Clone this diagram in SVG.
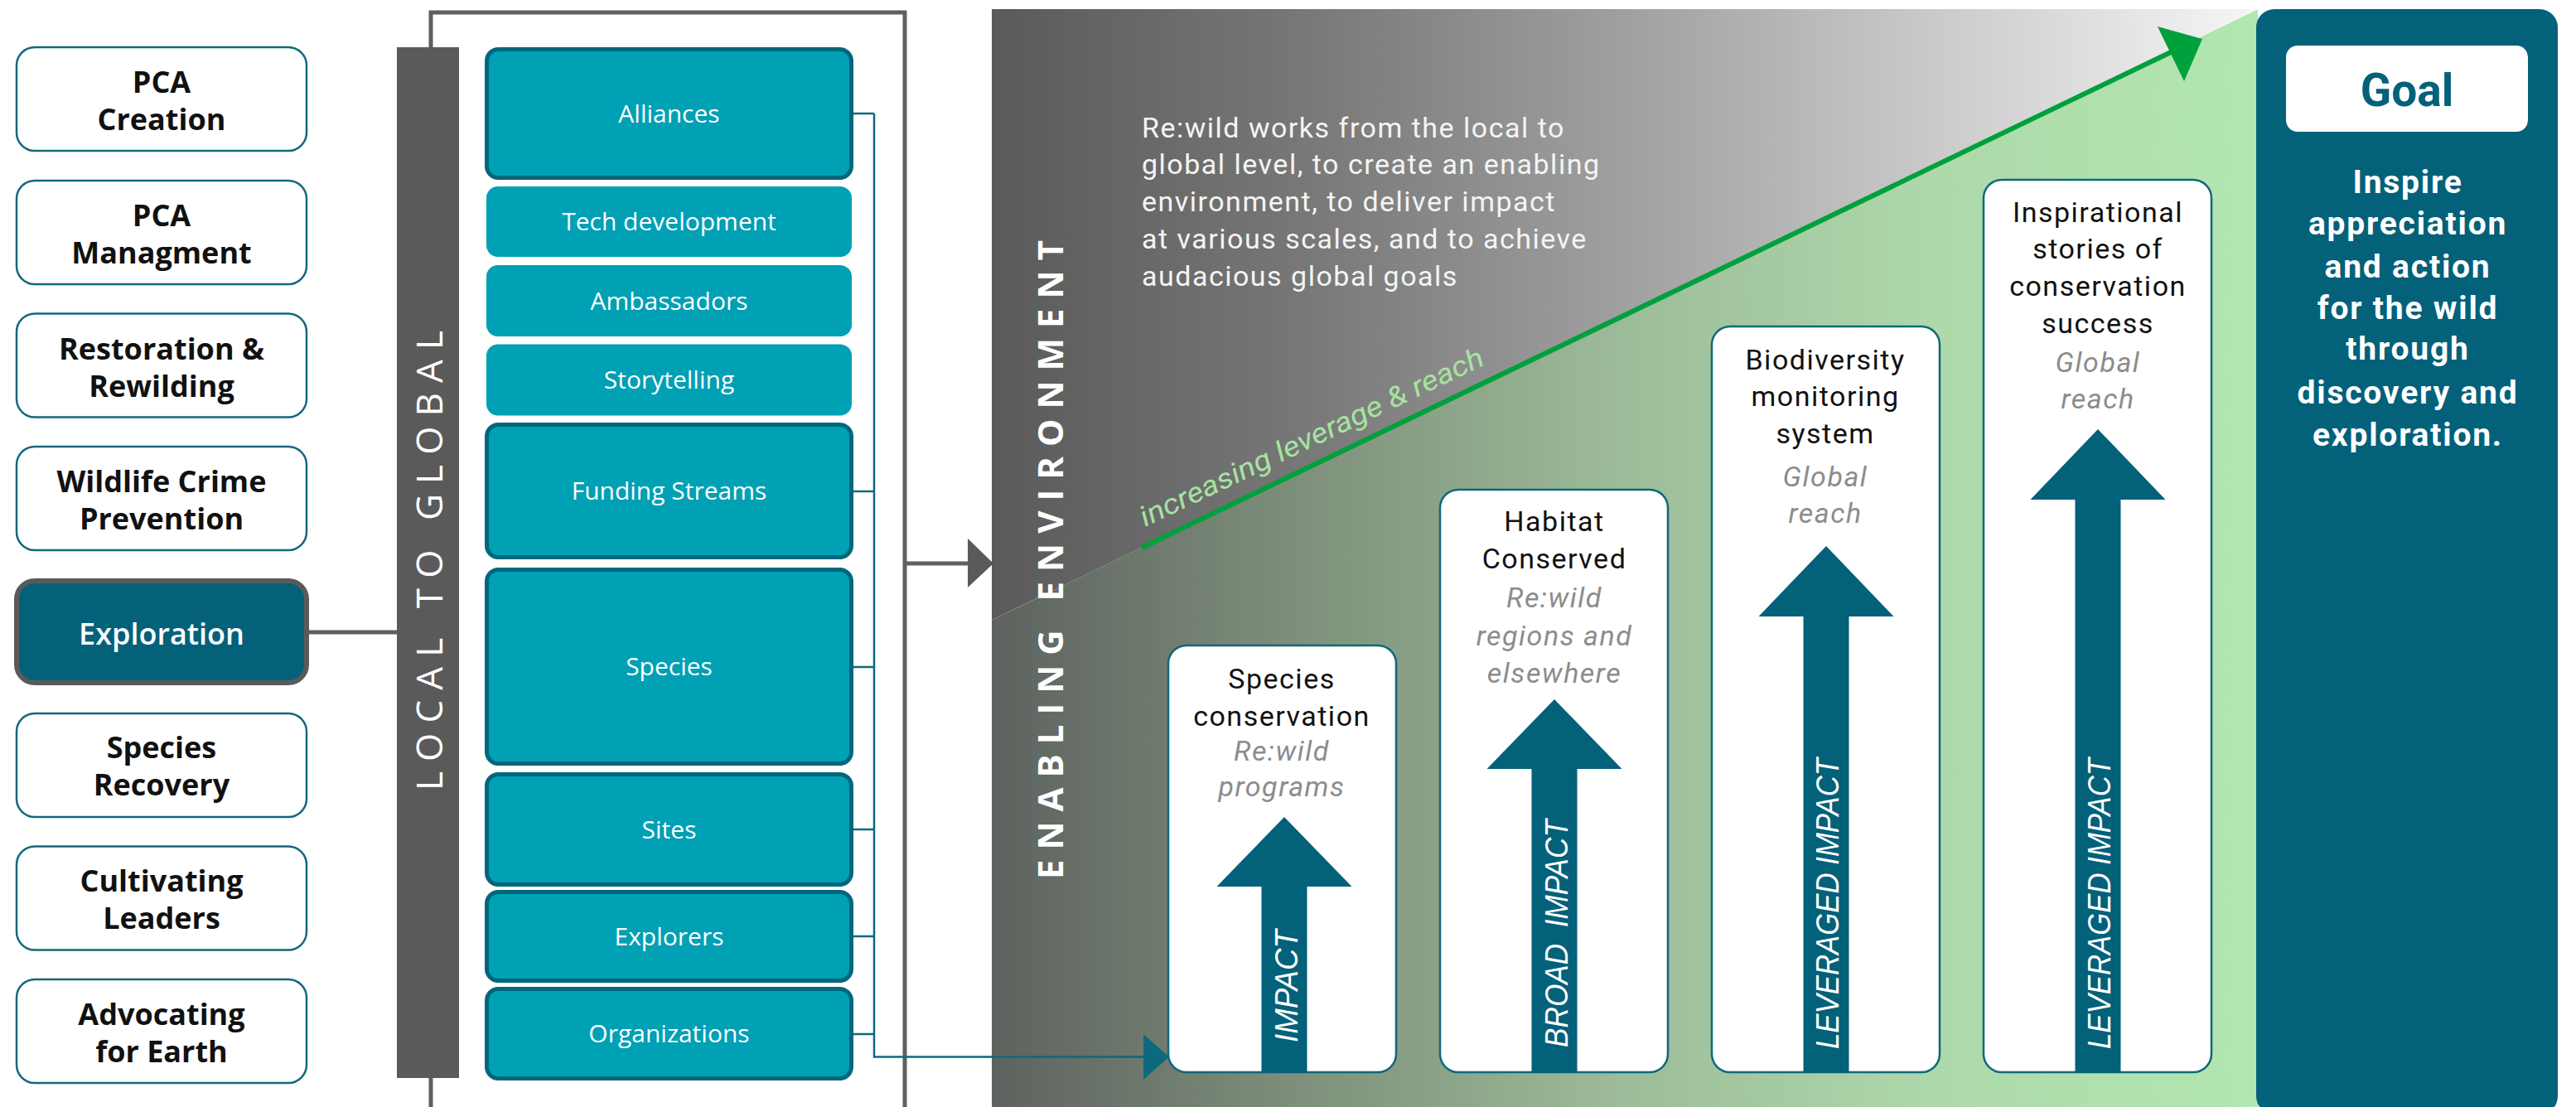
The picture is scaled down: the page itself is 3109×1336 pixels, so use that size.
<svg xmlns="http://www.w3.org/2000/svg" width="3109" height="1336" viewBox="0 0 3109 1336">
  <defs>
    <linearGradient id="gGrey" gradientUnits="userSpaceOnUse" x1="1197" y1="0" x2="2725" y2="0">
      <stop offset="0" stop-color="#5a5a5a"/>
      <stop offset="0.25" stop-color="#787878"/>
      <stop offset="0.5" stop-color="#a0a0a0"/>
      <stop offset="0.75" stop-color="#cbcbcb"/>
      <stop offset="1" stop-color="#f6f6f6"/>
    </linearGradient>
    <linearGradient id="gGreen" gradientUnits="userSpaceOnUse" x1="1197" y1="0" x2="2725" y2="0">
      <stop offset="0" stop-color="#5e625f"/>
      <stop offset="0.25" stop-color="#7f917c"/>
      <stop offset="0.5" stop-color="#9dbc99"/>
      <stop offset="0.75" stop-color="#aed9ab"/>
      <stop offset="1" stop-color="#b1e7b0"/>
    </linearGradient>
    <style>
      .pill { fill: #ffffff; stroke: #14687d; stroke-width: 2.5; }
      .pillT { font-family: "Open Sans", "Liberation Sans", sans-serif; font-weight: 700; font-size: 36px; fill: #111111; text-anchor: middle; }
      .team { fill: #00a0b5; }
      .teamB { fill: #00a0b5; stroke: #02667c; stroke-width: 5; }
      .teamT { font-family: "Open Sans", "Liberation Sans", sans-serif; font-size: 30px; fill: #ffffff; text-anchor: middle; }
      .card { fill: #ffffff; stroke: #0f687c; stroke-width: 2.5; }
      .cardT { font-family: Roboto, "Liberation Sans", sans-serif; font-size: 34px; letter-spacing: 1.5px; fill: #111111; text-anchor: middle; }
      .cardI { font-family: Roboto, "Liberation Sans", sans-serif; font-style: italic; font-size: 34px; letter-spacing: 1.5px; fill: #8c8c8c; text-anchor: middle; }
      .up { fill: #03617a; }
      .upT { font-family: "Liberation Sans", Arial, sans-serif; font-style: italic; font-size: 38px; fill: #ffffff; }
      .grey { fill: none; stroke: #5f5f5f; stroke-width: 5; }
      .tealLn { fill: none; stroke: #0d6a7e; stroke-width: 2.5; }
      .vert { font-family: "Open Sans", "Liberation Sans", sans-serif; fill: #ffffff; }
    </style>
  </defs>

  <!-- enabling environment backdrop -->
  <g id="environment">
    <polygon points="1197,748.3 2725,11.3 2725,1336 1197,1336" fill="url(#gGreen)"/>
    <polygon points="1197,11 2725,11 1197,748.3" fill="url(#gGrey)"/>
    <text class="vert" font-weight="700" font-size="42" fill="#eef3ee" transform="translate(1283,1061) rotate(-90)" textLength="771" lengthAdjust="spacing">ENABLING ENVIRONMENT</text>
    <g font-family="Roboto, 'Liberation Sans', sans-serif" font-size="34" letter-spacing="1.5" fill="#f4f4f4">
      <text x="1378" y="166">Re:wild works from the local to</text>
      <text x="1378" y="210">global level, to create an enabling</text>
      <text x="1378" y="255">environment, to deliver impact</text>
      <text x="1378" y="300">at various scales, and to achieve</text>
      <text x="1378" y="345">audacious global goals</text>
    </g>
  </g>

  <!-- goal panel -->
  <g id="goal">
    <rect x="2723" y="11" width="364" height="1334" rx="22" fill="#03617a"/>
    <rect x="2759" y="55" width="292" height="104" rx="14" fill="#ffffff"/>
    <text x="2905" y="128" font-family="Roboto, 'Liberation Sans', sans-serif" font-weight="700" font-size="55" fill="#03617a" text-anchor="middle">Goal</text>
    <g font-family="Roboto, 'Liberation Sans', sans-serif" font-weight="700" font-size="39" letter-spacing="1.8" fill="#ffffff" text-anchor="middle">
      <text x="2906" y="233">Inspire</text>
      <text x="2906" y="283">appreciation</text>
      <text x="2906" y="335">and action</text>
      <text x="2906" y="385">for the wild</text>
      <text x="2906" y="434">through</text>
      <text x="2906" y="487">discovery and</text>
      <text x="2906" y="538">exploration.</text>
    </g>
  </g>

  <!-- programme pillars -->
  <g id="pca-creation">
    <rect class="pill" x="20" y="57" width="350" height="125" rx="22"/>
    <text class="pillT" x="195" y="112">PCA</text>
    <text class="pillT" x="195" y="157">Creation</text>
  </g>
  <g id="pca-managment">
    <rect class="pill" x="20" y="218" width="350" height="125" rx="22"/>
    <text class="pillT" x="195" y="273">PCA</text>
    <text class="pillT" x="195" y="318">Managment</text>
  </g>
  <g id="restoration">
    <rect class="pill" x="20" y="378.5" width="350" height="125" rx="22"/>
    <text class="pillT" x="195" y="433.5">Restoration &amp;</text>
    <text class="pillT" x="195" y="478.5">Rewilding</text>
  </g>
  <g id="wildlife-crime">
    <rect class="pill" x="20" y="539" width="350" height="125" rx="22"/>
    <text class="pillT" x="195" y="594">Wildlife Crime</text>
    <text class="pillT" x="195" y="639">Prevention</text>
  </g>
  <g id="exploration">
    <rect x="20" y="701" width="350" height="123" rx="22" fill="#03617a" stroke="#5a5a5a" stroke-width="6"/>
    <text class="pillT" x="195" y="778" style="fill:#ffffff;font-weight:600">Exploration</text>
  </g>
  <g id="species-recovery">
    <rect class="pill" x="20" y="861" width="350" height="125" rx="22"/>
    <text class="pillT" x="195" y="915">Species</text>
    <text class="pillT" x="195" y="960">Recovery</text>
  </g>
  <g id="cultivating-leaders">
    <rect class="pill" x="20" y="1021.5" width="350" height="125" rx="22"/>
    <text class="pillT" x="195" y="1076">Cultivating</text>
    <text class="pillT" x="195" y="1121">Leaders</text>
  </g>
  <g id="advocating">
    <rect class="pill" x="20" y="1182" width="350" height="125" rx="22"/>
    <text class="pillT" x="195" y="1237">Advocating</text>
    <text class="pillT" x="195" y="1282">for Earth</text>
  </g>

  <!-- local to global bar -->
  <g id="local-to-global">
    <rect x="479" y="57" width="75" height="1244" fill="#5a5a5a"/>
    <text class="vert" font-size="44" transform="translate(534,954) rotate(-90)" textLength="555" lengthAdjust="spacing">LOCAL TO GLOBAL</text>
  </g>

  <!-- enablers -->
  <g id="alliances">
    <rect class="teamB" x="587.5" y="59.5" width="440" height="155" rx="14"/>
    <text class="teamT" x="807.5" y="148">Alliances</text>
  </g>
  <g id="tech-development">
    <rect class="team" x="587" y="225" width="441" height="85" rx="14"/>
    <text class="teamT" x="807.5" y="278">Tech development</text>
  </g>
  <g id="ambassadors">
    <rect class="team" x="587" y="320" width="441" height="86" rx="14"/>
    <text class="teamT" x="807.5" y="374">Ambassadors</text>
  </g>
  <g id="storytelling">
    <rect class="team" x="587" y="415.5" width="441" height="86" rx="14"/>
    <text class="teamT" x="807.5" y="469">Storytelling</text>
  </g>
  <g id="funding-streams">
    <rect class="teamB" x="587.5" y="512.5" width="440" height="160" rx="14"/>
    <text class="teamT" x="807.5" y="603">Funding Streams</text>
  </g>
  <g id="species">
    <rect class="teamB" x="587.5" y="687.5" width="440" height="234" rx="14"/>
    <text class="teamT" x="807.5" y="815">Species</text>
  </g>
  <g id="sites">
    <rect class="teamB" x="587.5" y="934.5" width="440" height="133" rx="14"/>
    <text class="teamT" x="807.5" y="1012">Sites</text>
  </g>
  <g id="explorers">
    <rect class="teamB" x="587.5" y="1076.5" width="440" height="107" rx="14"/>
    <text class="teamT" x="807.5" y="1141">Explorers</text>
  </g>
  <g id="organizations">
    <rect class="teamB" x="587.5" y="1193.5" width="440" height="108" rx="14"/>
    <text class="teamT" x="807.5" y="1258">Organizations</text>
  </g>

  <!-- impact columns -->
  <g id="species-conservation">
    <rect class="card" x="1410" y="779" width="275" height="515" rx="22"/>
    <polygon class="up" points="1522.5,1295 1522.5,1070 1468.5,1070 1550,986 1631.5,1070 1577.5,1070 1577.5,1295"/>
    <text class="upT" transform="translate(1566,1258) rotate(-90)" textLength="136" lengthAdjust="spacingAndGlyphs">IMPACT</text>
    <text class="cardT" x="1547" y="831">Species</text>
    <text class="cardT" x="1547" y="876">conservation</text>
    <text class="cardI" x="1547" y="918">Re:wild</text>
    <text class="cardI" x="1547" y="961">programs</text>
  </g>
  <g id="habitat-conserved">
    <rect class="card" x="1738" y="591" width="275" height="703" rx="22"/>
    <polygon class="up" points="1848.5,1295 1848.5,928 1794.5,928 1876,844 1957.5,928 1903.5,928 1903.5,1295"/>
    <text class="upT" transform="translate(1892,1264) rotate(-90)" textLength="275" lengthAdjust="spacingAndGlyphs" xml:space="preserve">BROAD  IMPACT</text>
    <text class="cardT" x="1876" y="641">Habitat</text>
    <text class="cardT" x="1876" y="686">Conserved</text>
    <text class="cardI" x="1876" y="733">Re:wild</text>
    <text class="cardI" x="1876" y="779">regions and</text>
    <text class="cardI" x="1876" y="824">elsewhere</text>
  </g>
  <g id="biodiversity-monitoring">
    <rect class="card" x="2066" y="394" width="275" height="900" rx="22"/>
    <polygon class="up" points="2176.5,1295 2176.5,744 2122.5,744 2204,659 2285.5,744 2231.5,744 2231.5,1295"/>
    <text class="upT" transform="translate(2219,1266) rotate(-90)" textLength="351" lengthAdjust="spacingAndGlyphs">LEVERAGED IMPACT</text>
    <text class="cardT" x="2203" y="446">Biodiversity</text>
    <text class="cardT" x="2203" y="490">monitoring</text>
    <text class="cardT" x="2203" y="535">system</text>
    <text class="cardI" x="2203" y="587">Global</text>
    <text class="cardI" x="2203" y="631">reach</text>
  </g>
  <g id="inspirational-stories">
    <rect class="card" x="2394" y="217" width="275" height="1077" rx="22"/>
    <polygon class="up" points="2504.5,1295 2504.5,603 2450.5,603 2532,518 2613.5,603 2559.5,603 2559.5,1295"/>
    <text class="upT" transform="translate(2547,1266) rotate(-90)" textLength="351" lengthAdjust="spacingAndGlyphs">LEVERAGED IMPACT</text>
    <text class="cardT" x="2532" y="268">Inspirational</text>
    <text class="cardT" x="2532" y="312">stories of</text>
    <text class="cardT" x="2532" y="357">conservation</text>
    <text class="cardT" x="2532" y="402">success</text>
    <text class="cardI" x="2532" y="449">Global</text>
    <text class="cardI" x="2532" y="493">reach</text>
  </g>

  <!-- connectors -->
  <g id="connectors">
    <path class="grey" d="M520,57 V15 H1092 V1336"/>
    <path class="grey" d="M520,1301 V1336"/>
    <path class="grey" d="M372,763 H479"/>
    <path class="grey" d="M1092,680 H1172"/>
    <polygon points="1168,650 1199,680 1168,709" fill="#5a5a5a"/>
    <path class="tealLn" d="M1030,137 H1055 M1030,593 H1055 M1030,805 H1055 M1030,1001 H1055 M1030,1130 H1055 M1030,1248 H1055"/>
    <path class="tealLn" d="M1055,137 V1275.5 H1384"/>
    <polygon points="1380,1248 1411,1275.5 1380,1303" fill="#0d6a7e"/>
    <path d="M1378,661 L2622,62" fill="none" stroke="#00a03c" stroke-width="6"/>
    <polygon points="2604,32 2658,47 2636,98" fill="#00a03c"/>
    <text transform="translate(1382,636) rotate(-25.5)" font-family="Roboto, 'Liberation Sans', sans-serif" font-style="italic" font-size="34" fill="#a6e3a0" textLength="456" lengthAdjust="spacingAndGlyphs">increasing leverage &amp; reach</text>
  </g>
</svg>
